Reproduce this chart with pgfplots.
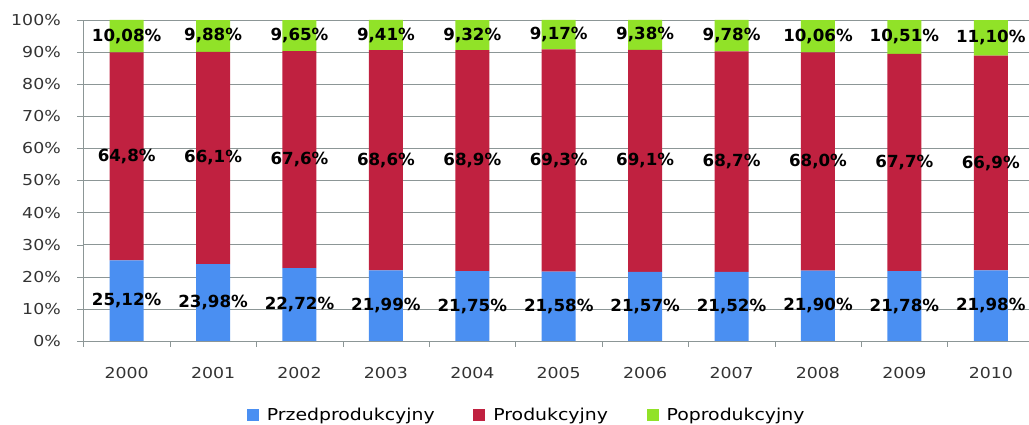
\documentclass[border=0pt]{standalone}
\usepackage{fontspec}
\setmainfont{DejaVu Sans}
\newfontfamily\tickfont{DejaVu Sans}[FakeStretch=1.15]
\usepackage{pgfplots}
\usepackage{pgfplotstable}
\pgfplotsset{compat=1.18}

\definecolor{predblue}{RGB}{74,143,242}
\definecolor{prodred}{RGB}{192,33,64}
\definecolor{postgreen}{RGB}{145,226,40}
\definecolor{gridgray}{RGB}{140,150,150}

% shares per year: pre-production, production, post-production
\pgfplotstableread{
x a     b    c
0 25.12 64.8 10.08
1 23.98 66.1 9.88
2 22.72 67.6 9.65
3 21.99 68.6 9.41
4 21.75 68.9 9.32
5 21.58 69.3 9.17
6 21.57 69.1 9.38
7 21.52 68.7 9.78
8 21.90 68.0 10.06
9 21.78 67.7 10.51
10 21.98 66.9 11.10
}\shares

\pgfplotsset{
  /pgf/number format/assume math mode=true,
  frame/.style={
    width=712.9pt, height=240.75pt, scale only axis,
    at={(62.6pt,63pt)}, anchor=south west,
    xmin=-0.5, xmax=10.5, ymin=0, ymax=100,
  },
  lbl/.style={
    draw=none, mark=none, point meta=explicit,
    every node near coord/.append style={anchor=center, inner sep=0pt,
      font=\fontsize{12.5}{14}\selectfont\bfseries},
  },
}

\begin{document}
\begin{tikzpicture}
\begin{axis}[
  frame,
  ybar stacked, bar width=25.5pt,
  axis x line=bottom, axis y line=left,
  axis line style={-, draw=gridgray},
  tick align=outside, major tick length=4.5pt,
  tick style={draw=gridgray},
  ymajorgrids, grid style={draw=gridgray},
  ytick={0,10,...,100},
  yticklabel={\pgfmathprintnumber{\tick}\%},
  xtick={-0.5,0.5,...,10.5},
  xticklabels={2000,2001,2002,2003,2004,2005,2006,2007,2008,2009,2010},
  x tick label as interval,
  ticklabel style={font=\tickfont\fontsize{11.3}{13}\selectfont, text=black!80},
  yticklabel style={xshift=-9pt},
  xticklabel style={yshift=-12pt},
  legend style={at={(0.4666,-0.232)}, anchor=center, legend columns=3,
    draw=none, font=\tickfont\fontsize{12.3}{14}\selectfont,
    /tikz/every odd column/.append style={column sep=4pt},
    /tikz/every even column/.append style={column sep=27pt}},
  legend image code/.code={\fill[#1] (0pt,-4.5pt) rectangle (9pt,4.5pt);},
]
\addplot[fill=predblue, draw=none] table[x=x, y=a] {\shares};
\addplot[fill=prodred, draw=none] table[x=x, y=b] {\shares};
\addplot[fill=postgreen, draw=none] table[x=x, y=c] {\shares};
\legend{Przedprodukcyjny, Produkcyjny, Poprodukcyjny}
\end{axis}

\begin{axis}[frame, hide axis]
\addplot[lbl, nodes near coords={\pgfmathprintnumber[fixed,fixed zerofill,precision=2,use comma]{\pgfplotspointmeta}\%}]
  table[x=x, y expr=\thisrow{a}/2, meta=a] {\shares};
\addplot[lbl, nodes near coords={\pgfmathprintnumber[fixed,fixed zerofill,precision=1,use comma]{\pgfplotspointmeta}\%}]
  table[x=x, y expr=\thisrow{a}+\thisrow{b}/2, meta=b] {\shares};
\addplot[lbl, nodes near coords={\pgfmathprintnumber[fixed,fixed zerofill,precision=2,use comma]{\pgfplotspointmeta}\%}]
  table[x=x, y expr=\thisrow{a}+\thisrow{b}+\thisrow{c}/2, meta=c] {\shares};
\end{axis}
\pgfresetboundingbox
\path[use as bounding box] (0,0) rectangle (771.75pt,318.75pt);
\end{tikzpicture}
\end{document}
